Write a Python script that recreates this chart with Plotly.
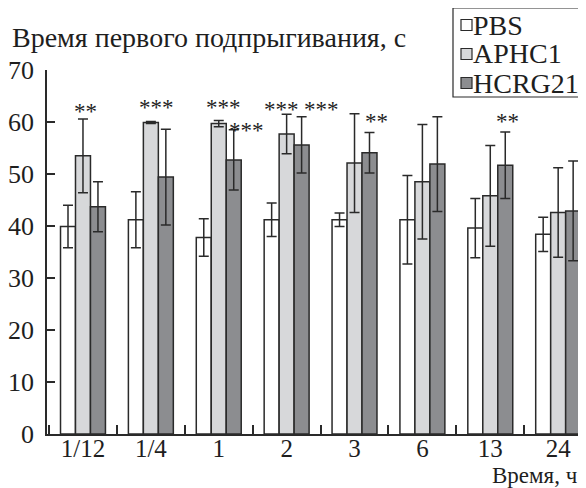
import plotly.graph_objects as go

# ---------------- data ----------------
categories = ["1/12", "1/4", "1", "2", "3", "6", "13", "24"]
series_names = ["PBS", "APHC1", "HCRG21"]

pbs = [39.9, 41.2, 37.8, 41.2, 41.2, 41.2, 39.6, 38.4]
pbs_err = [4.1, 5.4, 3.6, 3.2, 1.3, 8.5, 5.7, 3.3]

aphc1 = [53.5, 59.9, 59.7, 57.7, 52.1, 48.5, 45.8, 42.6]
aphc1_err = [7.1, 0.2, 0.6, 3.8, 9.5, 11.0, 9.7, 8.6]

hcrg21 = [43.7, 49.4, 52.7, 55.6, 54.1, 51.9, 51.7, 42.9]
hcrg21_err = [4.8, 9.2, 5.8, 5.4, 3.9, 9.1, 6.4, 9.6]

y_ticks = [0, 10, 20, 30, 40, 50, 60, 70]

# significance marks
sig_category = ["1/12", "1/4", "1", "1", "2", "2", "3", "13"]
sig_series = [1, 1, 1, 2, 1, 2, 2, 2]
sig_text = ["**", "***", "***", "***", "***", "***", "**", "**"]
sig_level = [62.9, 63.7, 63.7, 59.4, 63.3, 63.3, 61.0, 61.0]

y_title = "Время первого подпрыгивания, с"
x_title = "Время, ч"

# ---------------- style ----------------
OFF = 8                      # default page body margin
W, H = 586 - OFF, 488 - OFF
ML, MR, MT, MB = 39, 0, 62, 54
PW, PH = W - ML - MR, H - MT - MB
FONT = "Liberation Serif"
FS = 25
fills = ["#ffffff", "#d7d8da", "#8c8d90"]
edge = "#2a2a2a"
txt_col = "#1e1e1e"
bar_px = 15
sig_dx = [3, 6, 5, 13, -5, 20, 7, 2]


def px(x):
    return (x - OFF - ML) / PW


def py(y):
    return (H - MB - (y - OFF)) / PH


values = [pbs, aphc1, hcrg21]
errors = [pbs_err, aphc1_err, hcrg21_err]

fig = go.Figure()
for name, vals, errs, col in zip(series_names, values, errors, fills):
    fig.add_trace(go.Bar(
        x=categories, y=vals, name=name,
        marker=dict(color=col, line=dict(color=edge, width=1.5)),
        error_y=dict(type="data", array=errs, visible=True,
                     color=edge, thickness=1.5, width=5),
        showlegend=False,
    ))

annotations = []
for cat, s, txt, lev, dx in zip(sig_category, sig_series, sig_text, sig_level, sig_dx):
    annotations.append(dict(
        x=categories.index(cat), y=lev, xref="x", yref="y", text=txt,
        showarrow=False, xshift=(s - 1) * bar_px + dx, yshift=-5,
        font=dict(family=FONT, size=23, color=txt_col),
        xanchor="center", yanchor="middle",
    ))

annotations.append(dict(
    x=px(10), y=py(37), xref="paper", yref="paper", text=y_title,
    showarrow=False, xanchor="left", yanchor="middle",
    font=dict(family=FONT, size=28, color=txt_col),
))
annotations.append(dict(
    x=px(580), y=py(475.5), xref="paper", yref="paper", text=x_title,
    showarrow=False, xanchor="right", yanchor="middle",
    font=dict(family=FONT, size=23, color=txt_col),
))

# manual legend
shapes = [dict(type="rect", xref="paper", yref="paper",
               x0=px(453), x1=px(584), y0=py(97), y1=py(8),
               line=dict(color=edge, width=1.2), fillcolor="white")]
row_y = [25, 54, 83]
for name, col, ry in zip(series_names, fills, row_y):
    shapes.append(dict(type="rect", xref="paper", yref="paper",
                       x0=px(461), x1=px(472), y0=py(ry + 5.5), y1=py(ry - 5.5),
                       line=dict(color=edge, width=1.2), fillcolor=col))
    annotations.append(dict(
        x=px(471), y=py(ry), xref="paper", yref="paper", text=name,
        showarrow=False, xanchor="left", yanchor="middle",
        font=dict(family=FONT, size=28, color=txt_col),
    ))

fig.update_layout(
    width=W, height=H,
    margin=dict(l=ML, r=MR, t=MT, b=MB, pad=0),
    paper_bgcolor="white", plot_bgcolor="white",
    barmode="group", bargap=0.338, bargroupgap=0,
    font=dict(family=FONT, size=FS, color=txt_col),
    annotations=annotations, shapes=shapes,
    showlegend=False,
)
fig.update_xaxes(
    type="category", range=[-0.53, 7.41],
    showline=True, linecolor=edge, linewidth=1.5,
    ticks="inside", ticklen=9, tickwidth=1.5, tickcolor=edge,
    tickson="boundaries", showgrid=False, zeroline=False,
    ticklabelstandoff=-9,
    tickfont=dict(family=FONT, size=25, color=txt_col),
)
fig.update_yaxes(
    range=[0, 70], tickvals=y_ticks,
    showline=True, linecolor=edge, linewidth=1.5,
    ticks="inside", ticklen=8, tickwidth=1.5, tickcolor=edge,
    showgrid=False, zeroline=False, ticklabelstandoff=6,
    tickfont=dict(family=FONT, size=26, color=txt_col),
)

fig.write_html("out.html")
